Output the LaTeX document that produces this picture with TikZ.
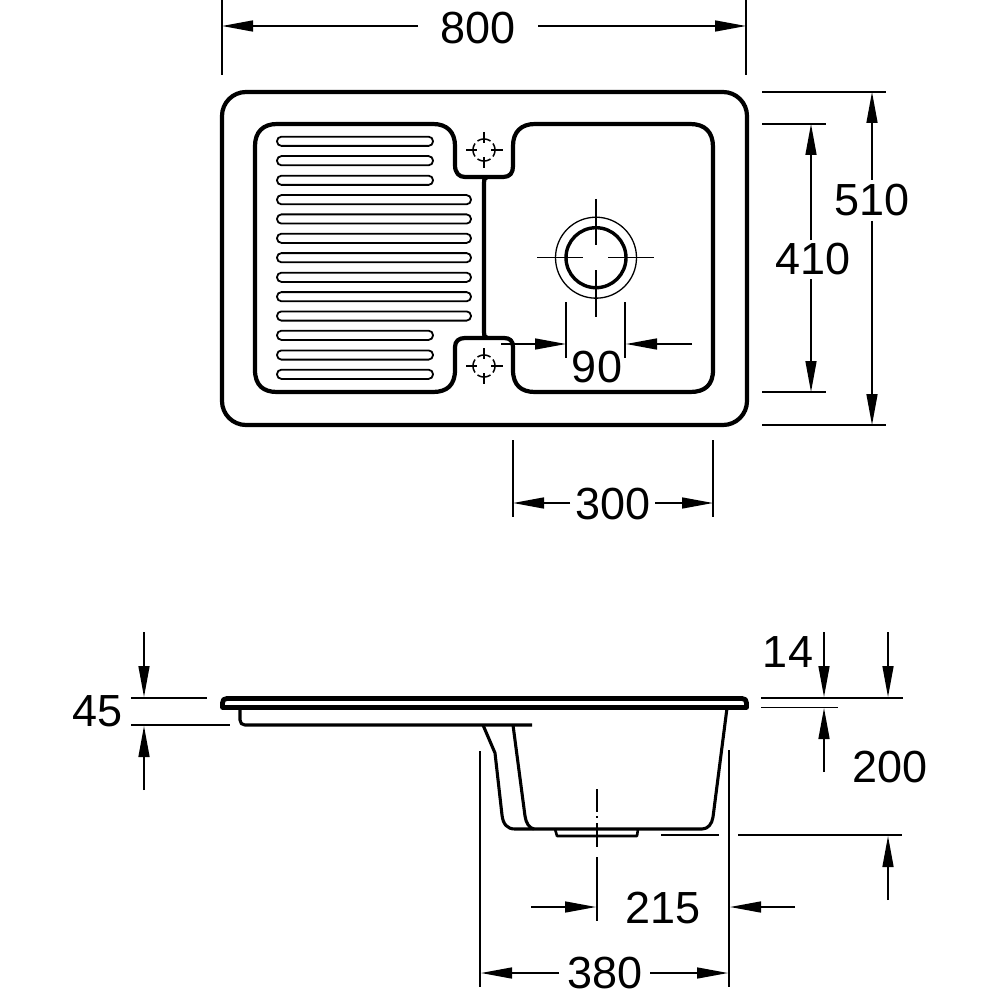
\documentclass[tikz,border=0pt]{standalone}
\usepackage{fontspec}
\setmainfont{Liberation Sans}
\usetikzlibrary{arrows.meta}
\tikzset{
  x=1pt,y=-1pt,
  heavy/.style={line width=4.2pt,line join=round},
  rim/.style={line width=4.8pt,line join=round},
  medium/.style={line width=3.1pt,line join=round},
  thin line/.style={line width=1.5pt},
  dimarrow/.style={line width=1.5pt,-{Triangle[length=31pt,width=11pt]}},
  dimlabel/.style={font=\fontsize{45}{45}\selectfont,inner sep=0pt},
  slot/.style={line width=1.8pt,rounded corners=4.4pt},
  cross/.style={line width=1.5pt},
}
\begin{document}
\begin{tikzpicture}
\useasboundingbox[fill=white] (0,0) rectangle (1000,1000);
% top view: outer rim
\draw[heavy,rounded corners=24pt] (222,92) rectangle (747,425);
% basin outline
\draw[heavy]
  (277,124) -- (433,124) .. controls (447,124) and (455,132) .. (455,146)
  -- (455,165) .. controls (455,173) and (459,177) .. (465,177)
  -- (503,177) .. controls (510,177) and (513,173) .. (513,166)
  -- (513,146) .. controls (513,132) and (521,124) .. (535,124)
  -- (690,124) .. controls (705,124) and (713,132) .. (713,147)
  -- (713,370) .. controls (713,385) and (705,392) .. (690,392)
  -- (535,392) .. controls (521,392) and (513,385) .. (513,370)
  -- (513,347) .. controls (513,341) and (510,338) .. (504,338)
  -- (465,338) .. controls (459,338) and (455,341) .. (455,347)
  -- (455,370) .. controls (455,385) and (447,392) .. (433,392)
  -- (277,392) .. controls (263,392) and (255,385) .. (255,370)
  -- (255,146) .. controls (255,132) and (263,124) .. (277,124) -- cycle;
\draw[heavy] (487,177) .. controls (484,178) and (484,180) .. (484,183)
  -- (484,332) .. controls (484,335) and (484,337) .. (487,338);
% drainer slots
\foreach \y in {141.3,160.7,180.3,335.3,355,374.3}
  \draw[slot] (277,\y-4.6) rectangle (433,\y+4.6);
\foreach \y in {199.7,219,238.3,257.7,277.3,296.7,316}
  \draw[slot] (277,\y-4.6) rectangle (471,\y+4.6);
% tap holes
\foreach \cy in {150,366}{
  \draw[cross] (466,\cy) -- (477,\cy) (491,\cy) -- (503,\cy)
    (484,\cy-18) -- (484,\cy-7) (484,\cy+7) -- (484,\cy+18);
  \foreach \a in {0,90,180,270}
    \draw[cross] plot[smooth,domain=\a-36:\a+36,samples=9,variable=\t] ({484+11*cos(\t)},{\cy+11*sin(\t)});
}
% waste
\draw[line width=1.3pt] (596,257.7) circle[radius=40.5];
\draw[line width=3.4pt] (596,257.7) circle[radius=30];
\draw[thin line] (537,257.7) -- (583,257.7) (608,257.7) -- (654,257.7)
  (596,199) -- (596,245) (596,270) -- (596,317);
% dim 800
\draw[thin line] (222,0) -- (222,75) (746,0) -- (746,75);
\node[dimlabel] (d800) at (478,28) {800};
\draw[dimarrow] (418,26) -- (222,26);
\draw[dimarrow] (538,26) -- (746,26);
% dim 510
\draw[thin line] (762,92) -- (886,92) (762,425) -- (886,425);
\node[dimlabel] (d510) at (872,200) {510};
\draw[dimarrow] (872,180) -- (872,92);
\draw[dimarrow] (872,221) -- (872,425);
% dim 410
\draw[thin line] (762,124) -- (826,124) (762,392) -- (826,392);
\node[dimlabel] (d410) at (813,259) {410};
\draw[dimarrow] (811,240) -- (811,124);
\draw[dimarrow] (811,279) -- (811,392);
% dim 300
\draw[thin line] (513,440) -- (513,517) (713,440) -- (713,517);
\node[dimlabel] (d300) at (613,504) {300};
\draw[dimarrow] (570,503) -- (513,503);
\draw[dimarrow] (655,503) -- (713,503);
% dim 90
\draw[thin line] (566,302) -- (566,358) (625,302) -- (625,358);
\node[dimlabel] (d90) at (597,367) {90};
\draw[dimarrow] (501,344) -- (566,344);
\draw[dimarrow] (692,344) -- (626,344);
% side view: rim
\draw[rim] (222.5,707.5) -- (222.5,703) .. controls (222.5,700) and (224,698.5) .. (227,698.5)
  -- (742,698.5) .. controls (745,698.5) and (746.5,700) .. (746.5,703) -- (746.5,707.5) -- cycle;
% drainer underside
\draw[medium] (240,708) -- (240,720) .. controls (240,723) and (242,725) .. (245,725) -- (532,725);
% bowl
\draw[medium] (483,725) -- (495,753) -- (502,815) .. controls (503,824) and (507,829) .. (515,829)
  -- (702,829) .. controls (708,829) and (712,824) .. (713,817) -- (727,708);
\draw[medium] (513,725) -- (525,816) .. controls (526,823) and (529,828) .. (534,829);
% drain
\draw[line width=2.6pt,line join=round] (555,829) -- (557,836) -- (637,836) -- (638,829);
% centre line
\draw[thin line] (597,789) -- (597,812) (597,816) -- (597,818) (597,823) -- (597,847)
  (597,857) -- (597,921);
% dim 45
\draw[thin line] (131,698) -- (207,698) (131,725) -- (230,725);
\node[dimlabel] (d45) at (98,711) {45};
\draw[dimarrow] (144,632) -- (144,697);
\draw[dimarrow] (144,790) -- (144,726);
% dim 14
\draw[thin line] (761,698) -- (903,698) (761,707.5) -- (838,707.5);
\node[dimlabel] (d14) at (788,652) {14};
\draw[dimarrow] (824,632) -- (824,697);
\draw[dimarrow] (824,772) -- (824,708);
% dim 200
\node[dimlabel] (d200) at (890,767) {200};
\draw[thin line] (661,835) -- (719,835) (738,835) -- (902,835);
\draw[dimarrow] (888,632) -- (888,697);
\draw[dimarrow] (888,900) -- (888,836);
% dim 380 / 215
\draw[thin line] (480,751) -- (480,987) (729,750) -- (729,987);
\node[dimlabel] (d215) at (663,908) {215};
\draw[dimarrow] (531,907) -- (596,907);
\draw[dimarrow] (795,907) -- (730,907);
\node[dimlabel] (d380) at (605,973) {380};
\draw[dimarrow] (559,973) -- (481,973);
\draw[dimarrow] (650,973) -- (728,973);
\end{tikzpicture}
\end{document}
